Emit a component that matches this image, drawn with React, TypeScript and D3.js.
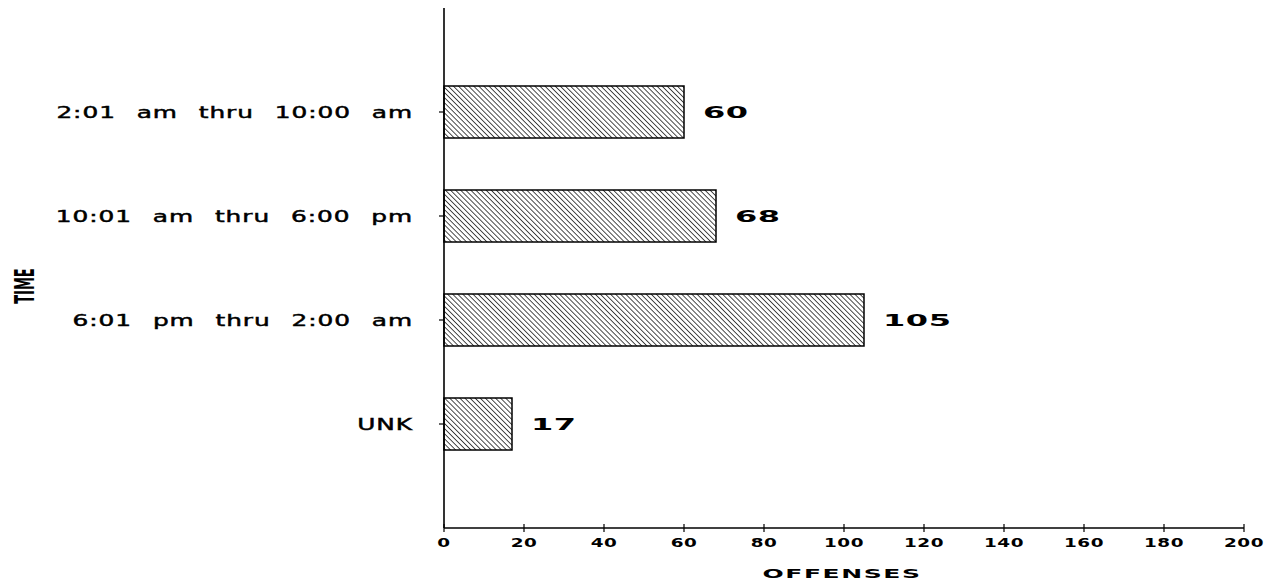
import React from "react";
import * as d3 from "d3";

const categories = ["2:01 am thru 10:00 am", "10:01 am thru 6:00 pm", "6:01 pm thru 2:00 am", "UNK"];
const offenses = [60, 68, 105, 17];
const xTicks = [0, 20, 40, 60, 80, 100, 120, 140, 160, 180, 200];
const xTitle = "OFFENSES";
const yTitle = "TIME";

const font = "'DejaVu Sans', Verdana, sans-serif";

function WideText(props: {
  x: number; y: number; sx: number; size: number; anchor?: string; bold?: boolean;
  ls?: number; ws?: number; thick?: number; children: React.ReactNode;
}) {
  const { x, y, sx, size, anchor = "start", bold = false, ls = 0, ws = 0, thick = 0, children } = props;
  return (
    <text transform={`translate(${x},${y}) scale(${sx},1)`} dy="0.36em" textAnchor={anchor}
      fontFamily={font} fontSize={size} fontWeight={bold ? "bold" : "normal"}
      letterSpacing={ls} wordSpacing={ws} fill="#000"
      stroke={thick > 0 ? "#000" : "none"} strokeWidth={thick}>{children}</text>
  );
}

export default function App() {
  const W = 1273, H = 586;
  const left = 444, right = 1244, top = 8, bottom = 528;
  const x = d3.scaleLinear().domain([0, 200]).range([left, right]);
  const y = d3.scalePoint<string>().domain(categories).range([top, bottom]).padding(1);
  const barH = 52;
  return (
    <svg width={W} height={H} style={{ position: "absolute", left: 0, top: 0, background: "#fff" }}>
      <defs>
        <pattern id="hatch" patternUnits="userSpaceOnUse" width="3.6" height="3.6" patternTransform="rotate(-45)">
          <rect width="3.6" height="3.6" fill="#fff" />
          <line x1="0" y1="0" x2="0" y2="3.6" stroke="#111" strokeWidth="1.5" />
        </pattern>
      </defs>
      {categories.map((c, i) => {
        const cy = y(c)!;
        return (
          <g key={c}>
            <rect x={x(0)} y={cy - barH / 2} width={x(offenses[i]) - x(0)} height={barH}
              fill="url(#hatch)" stroke="#000" strokeWidth={1.5} />
            <WideText x={x(offenses[i]) + 19} y={cy} sx={2.0} size={16} bold ls={0.3}>{offenses[i]}</WideText>
            <line x1={left - 5} x2={left} y1={cy} y2={cy} stroke="#000" strokeWidth={1.2} />
            <WideText x={left - 31} y={cy} sx={1.6} size={15.5} anchor="end" ls={0.6} ws={7.5} thick={0.45}>{c}</WideText>
          </g>
        );
      })}
      <line x1={left} x2={left} y1={top} y2={bottom} stroke="#000" strokeWidth={1.6} />
      <line x1={left} x2={right} y1={bottom} y2={bottom} stroke="#000" strokeWidth={1.6} />
      {xTicks.map((t) => (
        <g key={t}>
          <line x1={x(t)} x2={x(t)} y1={bottom - 4} y2={bottom + 4} stroke="#000" strokeWidth={1.2} />
          <WideText x={x(t)} y={bottom + 15} sx={1.6} size={11.5} anchor="middle" bold ls={0.3}>{t}</WideText>
        </g>
      ))}
      <WideText x={842} y={573} sx={2.0} size={12.5} anchor="middle" bold ls={0.8}>{xTitle}</WideText>
      <text transform={`translate(25,286) rotate(-90) scale(0.5,1)`} textAnchor="middle"
        dy="0.36em" fontFamily={font} fontSize={26} fontWeight="bold" fill="#000">{yTitle}</text>
    </svg>
  );
}
